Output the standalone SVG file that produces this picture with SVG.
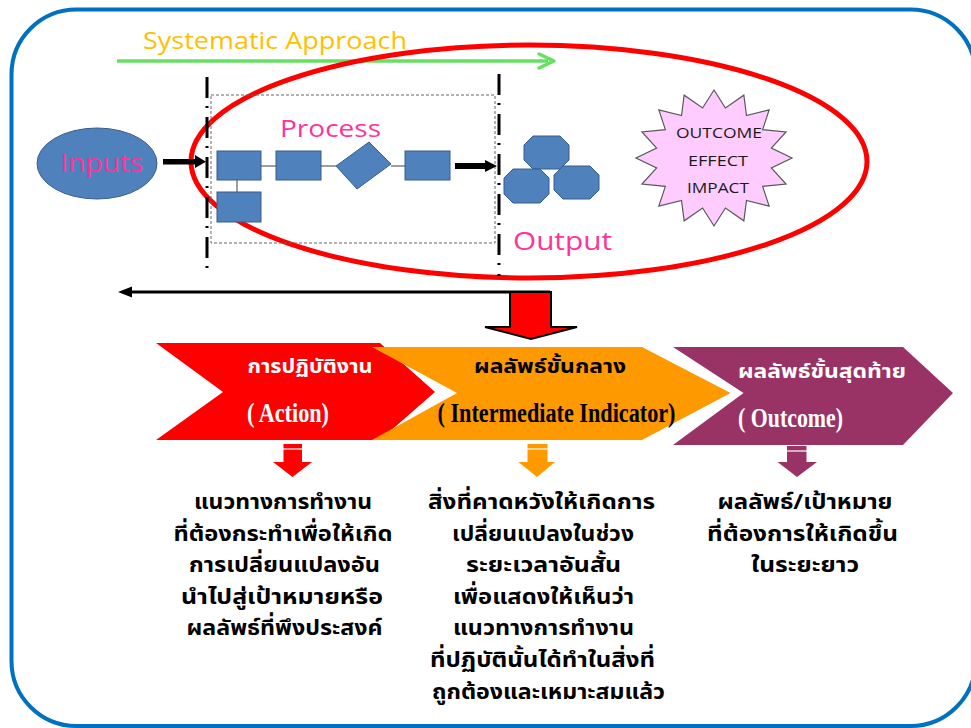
<svg xmlns="http://www.w3.org/2000/svg" width="971" height="728" viewBox="0 0 971 728">
<style>
.lat{font-family:"Open Sans","DejaVu Sans",sans-serif}
.pink{fill:#FF3399}
.blue{fill:#4F81BD;stroke:#385D8A;stroke-width:1}
.conn{stroke:#7F7F7F;stroke-width:1.5;fill:none}
.dd{stroke:#000;stroke-width:3;stroke-dasharray:21 8 2 9;fill:none}
.th{font-family:"Noto Sans Thai","Noto Sans","DejaVu Sans",sans-serif;font-weight:bold;text-anchor:middle}
.body{font-size:22px;fill:#000}
.en{font-family:"Liberation Serif",serif;font-weight:bold;font-size:27px;text-anchor:middle}
</style>
<rect x="11.5" y="9.5" width="964" height="716.5" rx="65" fill="#fff" stroke="#0070C0" stroke-width="4"/>

<g id="systematic">
<text class="lat" x="143" y="49" font-size="24" fill="#FFC000" textLength="264" lengthAdjust="spacingAndGlyphs">Systematic Approach</text>
<line x1="117" y1="61" x2="548" y2="61" stroke="#66E060" stroke-width="3.5"/>
<polyline points="539,54 554,61 539,68" fill="none" stroke="#66E060" stroke-width="3.5" stroke-linejoin="round" stroke-linecap="round"/>
</g>

<ellipse id="scope" cx="529" cy="161.5" rx="338" ry="116.5" fill="none" stroke="#FF0000" stroke-width="5"/>

<g id="boundaries">
<line class="dd" x1="207" y1="77" x2="207" y2="276"/>
<line class="dd" x1="499" y1="74" x2="499" y2="276"/>
<rect x="211" y="95" width="284" height="148" fill="none" stroke="#666" stroke-width="1" stroke-dasharray="3 2"/>
</g>

<g id="inputs">
<ellipse cx="97" cy="163.5" rx="60" ry="35.5" class="blue"/>
<text class="lat pink" x="102" y="172" font-size="26" text-anchor="middle" textLength="83" lengthAdjust="spacingAndGlyphs">Inputs</text>
</g>

<g id="process">
<text class="lat pink" x="330.5" y="137" font-size="24" text-anchor="middle" textLength="101" lengthAdjust="spacingAndGlyphs">Process</text>
<g id="flow-connectors">
<line class="conn" x1="261" y1="166" x2="276" y2="166"/>
<line class="conn" x1="321" y1="166" x2="336" y2="166"/>
<line class="conn" x1="391" y1="166" x2="405" y2="166"/>
<line class="conn" x1="237" y1="180" x2="237" y2="192"/>
</g>
<rect id="p1" x="217" y="151" width="44" height="29" class="blue"/>
<rect id="p2" x="276" y="151" width="45" height="29" class="blue"/>
<polygon id="p3" points="336,166 369,142 391,164 357,189" class="blue"/>
<rect id="p4" x="405" y="151" width="45" height="29" class="blue"/>
<rect id="p5" x="217" y="192" width="44" height="30" class="blue"/>
</g>

<g id="output">
<polygon points="533,136 560,136 569,145 569,160 560,169 533,169 524,160 524,145" class="blue"/>
<polygon points="513,169 540,169 549,178 549,194 540,203 513,203 504,194 504,178" class="blue"/>
<polygon points="563,166 590,166 599,175 599,190 590,199 563,199 554,190 554,175" class="blue"/>
<text class="lat pink" x="562.5" y="250" font-size="26" text-anchor="middle" textLength="99" lengthAdjust="spacingAndGlyphs">Output</text>
</g>

<g id="outcome-star">
<polygon fill="#FFCCFF" stroke="#595959" stroke-width="1.2" points="714,90 725.41,107.98 743.85,95.17 746.5,115.59 769.15,109.92 762.64,129.66 786.06,131.98 771.38,148.05 792,158 771.38,167.95 786.06,184.02 762.64,186.34 769.15,206.08 746.5,200.41 743.85,220.83 725.41,208.02 714,226 702.59,208.02 684.15,220.83 681.5,200.41 658.85,206.08 665.36,186.34 641.94,184.02 656.62,167.95 636,158 656.62,148.05 641.94,131.98 665.36,129.66 658.85,109.92 681.5,115.59 684.15,95.17 702.59,107.98"/>
<g class="lat" font-size="15" fill="#1a1a1a" text-anchor="middle">
<text x="719" y="138" textLength="86" lengthAdjust="spacingAndGlyphs">OUTCOME</text>
<text x="718" y="166" textLength="60" lengthAdjust="spacingAndGlyphs">EFFECT</text>
<text x="718" y="193" textLength="62" lengthAdjust="spacingAndGlyphs">IMPACT</text>
</g>
</g>

<g id="connectors">
<polygon points="163,159 195,159 195,155 206,161.7 195,168 195,164.5 163,164.5" fill="#000"/>
<polygon points="455,163 485,163 485,160 497,166 485,172 485,169 455,169" fill="#000"/>
<line x1="550" y1="292" x2="128" y2="292" stroke="#000" stroke-width="3"/>
<polygon points="118,292 132,286.5 132,297.5" fill="#000"/>
<polygon points="510,292 551,292 551,327 577,327 531,339 485,327 510,327" fill="#FF0000" stroke="#000" stroke-width="2" stroke-linejoin="miter"/>
</g>

<g id="action">
<polygon points="156,343 380,343 435,392 380,440 156,440 223,392" fill="#FF0000"/>
<text class="th" x="310" y="373" font-size="20" fill="#fff" textLength="125" lengthAdjust="spacingAndGlyphs">การปฏิบัติงาน</text>
<text class="en" x="288" y="422" fill="#fff" textLength="82" lengthAdjust="spacingAndGlyphs">( Action)</text>
</g>

<g id="intermediate">
<polygon points="372,347 642,347 730.5,393 642,440 372,440 457,393" fill="#FF9900"/>
<text class="th" x="550" y="373" font-size="20" fill="#000" textLength="152" lengthAdjust="spacingAndGlyphs">ผลลัพธ์ขั้นกลาง</text>
<text class="en" x="556.5" y="422" fill="#000" textLength="238" lengthAdjust="spacingAndGlyphs">( Intermediate Indicator)</text>
</g>

<g id="outcome">
<polygon points="673,347 903,347 953,393 903,445 673,445 743.5,393" fill="#993366"/>
<text class="th" x="822" y="378" font-size="20" fill="#fff" textLength="168" lengthAdjust="spacingAndGlyphs">ผลลัพธ์ขั้นสุดท้าย</text>
<text class="en" x="790.5" y="427" fill="#fff" textLength="105" lengthAdjust="spacingAndGlyphs">( Outcome)</text>
</g>

<g id="down-arrows">
<g fill="#FF0000"><rect x="283.5" y="444" width="18.5" height="19"/><polygon points="273,462 312,462 292.5,477"/></g>
<g fill="#FF9900"><rect x="527.5" y="444" width="20" height="19"/><polygon points="518.5,462 555,462 537,477"/></g>
<g fill="#993366"><rect x="787" y="446" width="19.5" height="17"/><polygon points="777.5,462 817,462 797,477"/></g>
<g stroke="#fff" stroke-width="1.2"><line x1="282" y1="449" x2="303" y2="449"/><line x1="526" y1="449" x2="549" y2="449"/><line x1="786" y1="451" x2="808" y2="451"/></g>
</g>

<g id="desc-action" class="th body">
<text x="283" y="509" textLength="178" lengthAdjust="spacingAndGlyphs">แนวทางการทำงาน</text>
<text x="283" y="540.6" textLength="219" lengthAdjust="spacingAndGlyphs">ที่ต้องกระทำเพื่อให้เกิด</text>
<text x="284.5" y="572.2" textLength="191" lengthAdjust="spacingAndGlyphs">การเปลี่ยนแปลงอัน</text>
<text x="282" y="603.8" textLength="202" lengthAdjust="spacingAndGlyphs">นำไปสู่เป้าหมายหรือ</text>
<text x="284.5" y="635.4" textLength="196" lengthAdjust="spacingAndGlyphs">ผลลัพธ์ที่พึงประสงค์</text>
</g>
<g id="desc-intermediate" class="th body">
<text x="541.5" y="509" textLength="227" lengthAdjust="spacingAndGlyphs">สิ่งที่คาดหวังให้เกิดการ</text>
<text x="543" y="540.6" textLength="182" lengthAdjust="spacingAndGlyphs">เปลี่ยนแปลงในช่วง</text>
<text x="543.5" y="572.2" textLength="155" lengthAdjust="spacingAndGlyphs">ระยะเวลาอันสั้น</text>
<text x="543.5" y="603.8" textLength="181" lengthAdjust="spacingAndGlyphs">เพื่อแสดงให้เห็นว่า</text>
<text x="543.5" y="635.4" textLength="181" lengthAdjust="spacingAndGlyphs">แนวทางการทำงาน</text>
<text x="542.5" y="667" textLength="225" lengthAdjust="spacingAndGlyphs">ที่ปฏิบัตินั้นได้ทำในสิ่งที่</text>
<text x="548.5" y="698.6" textLength="233" lengthAdjust="spacingAndGlyphs">ถูกต้องและเหมาะสมแล้ว</text>
</g>
<g id="desc-outcome" class="th body">
<text x="805" y="509" textLength="175" lengthAdjust="spacingAndGlyphs">ผลลัพธ์/เป้าหมาย</text>
<text x="802.5" y="540.6" textLength="191" lengthAdjust="spacingAndGlyphs">ที่ต้องการให้เกิดขึ้น</text>
<text x="805" y="572.2" textLength="108" lengthAdjust="spacingAndGlyphs">ในระยะยาว</text>
</g>
</svg>
